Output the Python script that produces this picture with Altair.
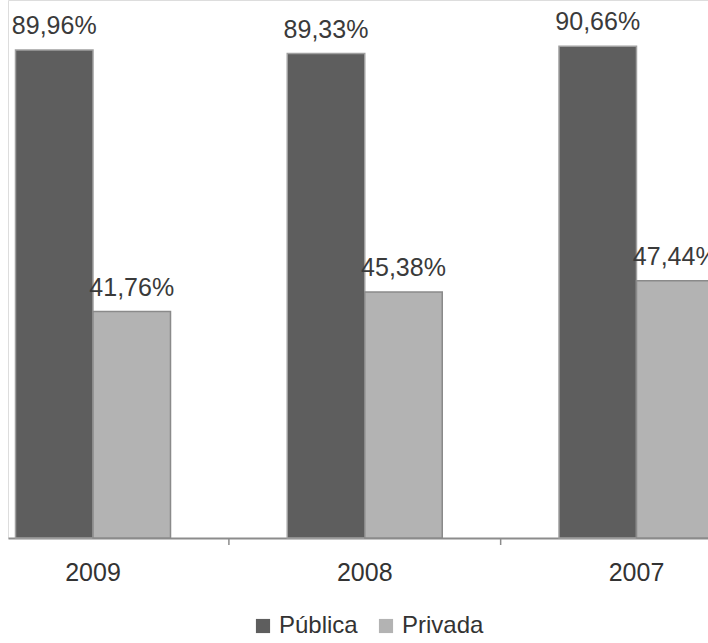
import altair as alt
import pandas as pd

years = ["2009", "2008", "2007"]
series = ["Pública", "Privada"]
publica = [89.96, 89.33, 90.66]
privada = [41.76, 45.38, 47.44]
tick_after = ["2009", "2008"]
colors = ["#5e5e5e", "#b3b3b3"]
edge_colors = ["#a0a0a0", "#8a8a8a"]

rows = []
for y, a, b in zip(years, publica, privada):
    rows.append({"ano": y, "tipo": "Pública", "valor": a})
    rows.append({"ano": y, "tipo": "Privada", "valor": b})
df = pd.DataFrame(rows)
df["rotulo"] = df["valor"].map(lambda v: f"{v:.2f}%".replace(".", ","))
ticks_df = pd.DataFrame({"ano": tick_after})

FONT = "Liberation Sans, Arial, sans-serif"

x_scale = alt.Scale(domain=years, range=[0, 713.5], paddingInner=0.4296, paddingOuter=0.0276)
x_enc = alt.X(
    "ano:N",
    sort=years,
    title=None,
    scale=x_scale,
    axis=alt.Axis(
        labelAngle=0,
        labelFontSize=25,
        labelFont=FONT,
        labelColor="#333333",
        labelPadding=22,
        domainColor="#8c8c8c",
        domainWidth=2,
        ticks=False,
        grid=False,
    ),
)
xoff = alt.XOffset("tipo:N", sort=series, scale=alt.Scale(paddingInner=0, paddingOuter=0))
y_enc = alt.Y("valor:Q", scale=alt.Scale(domain=[0, 99.2], nice=False, zero=True), axis=None)

bars = alt.Chart(df).mark_bar(strokeWidth=1.5).encode(
    x=x_enc,
    xOffset=xoff,
    y=y_enc,
    color=alt.Color(
        "tipo:N",
        sort=series,
        scale=alt.Scale(domain=series, range=colors),
        legend=alt.Legend(
            title=None,
            orient="none",
            direction="horizontal",
            legendX=243,
            legendY=614,
            symbolType="square",
            symbolSize=200,
            symbolStrokeWidth=0,
            labelFontSize=24,
            labelFont=FONT,
            labelColor="#333333",
            labelOffset=4,
            columnPadding=16,
        ),
    ),
    stroke=alt.Stroke("tipo:N", sort=series, scale=alt.Scale(domain=series, range=edge_colors), legend=None),
)

labels = alt.Chart(df).mark_text(
    baseline="alphabetic", dy=-16, fontSize=25, font=FONT, color="#3a3a3a"
).encode(
    x=alt.X("ano:N", sort=years),
    xOffset=alt.XOffset("tipo:N", sort=series),
    y=alt.Y("valor:Q"),
    text="rotulo:N",
)

ticks = alt.Chart(ticks_df).mark_rule(color="#8c8c8c", strokeWidth=1.5, xOffset=58.4).encode(
    x=alt.X("ano:N", sort=years, bandPosition=1),
    y=alt.value(538),
    y2=alt.value(545),
)

chart = (
    alt.layer(bars, labels, ticks)
    .properties(
        width=700,
        height=538,
        autosize=alt.AutoSizeParams(type="none"),
        padding={"left": 8, "top": 0, "right": 0, "bottom": 105},
    )
    .configure_view(stroke=None)
    .configure(background="white")
)

chart.save("out.html", embed_options={"renderer": "svg", "actions": False})
